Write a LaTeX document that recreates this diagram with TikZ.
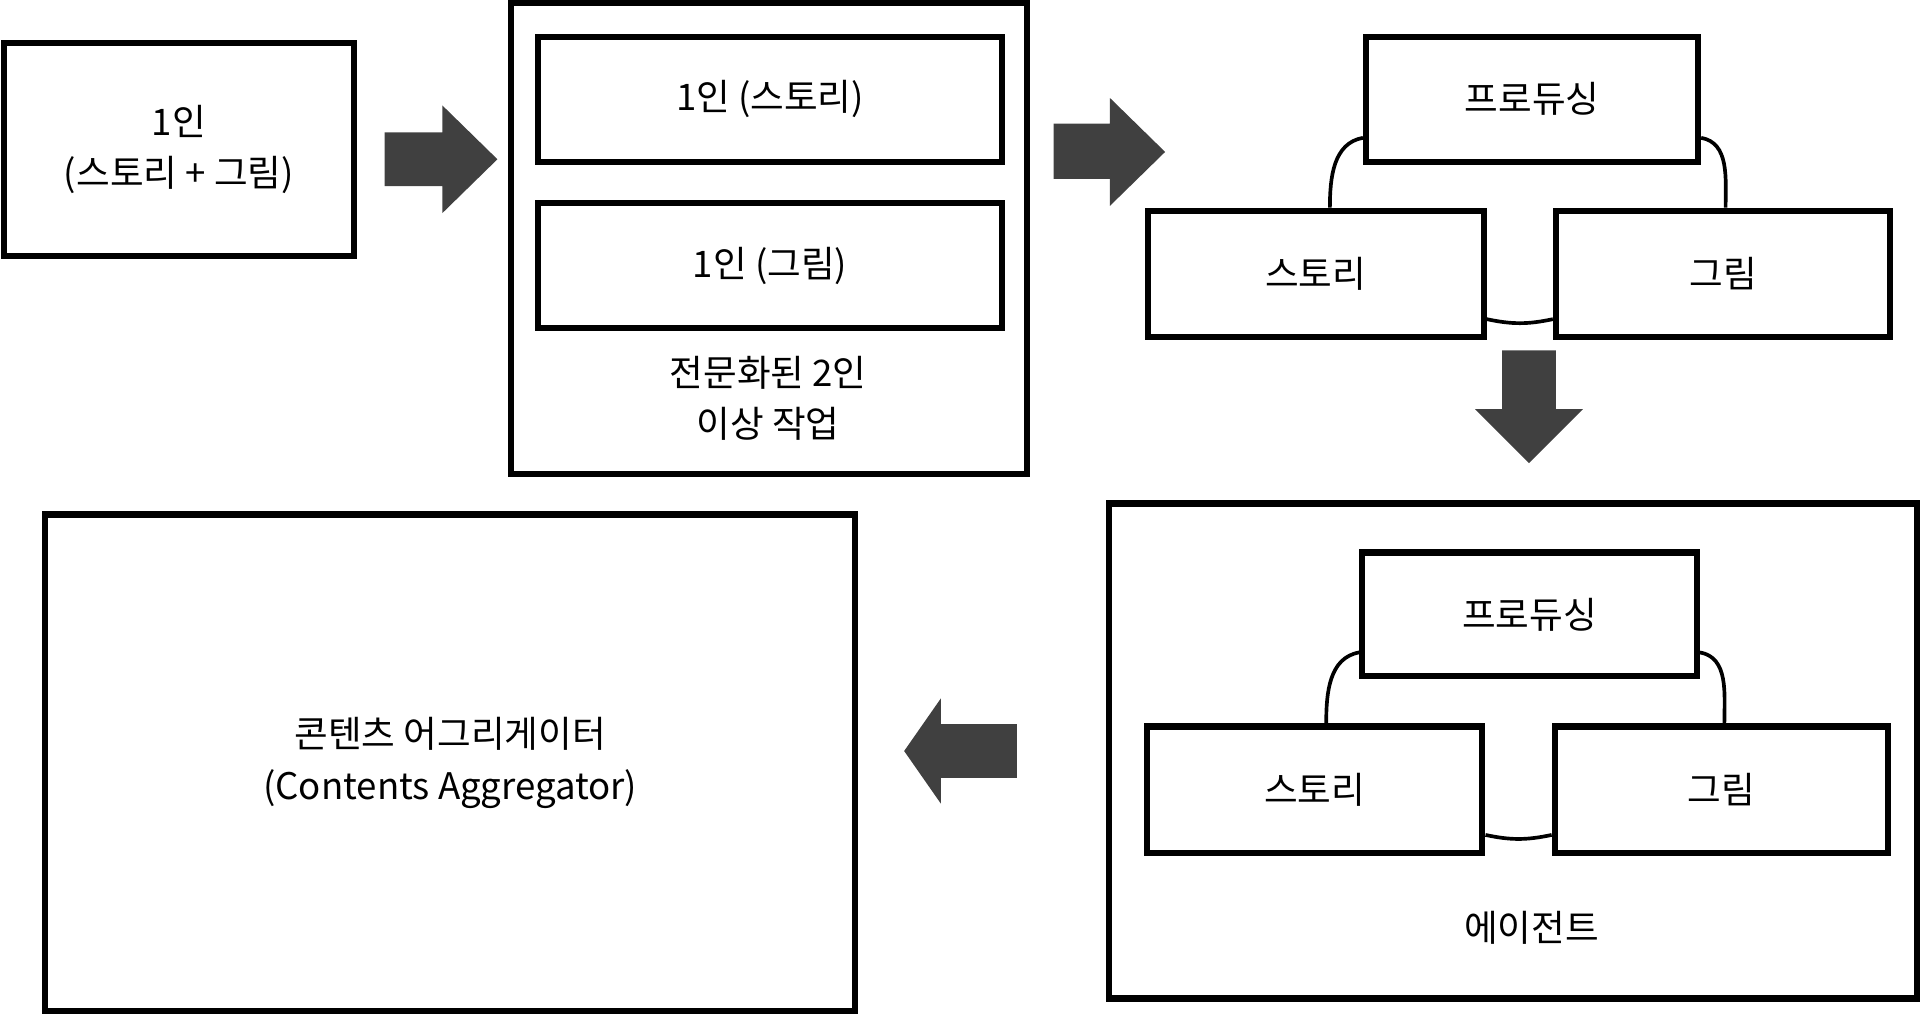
\documentclass[tikz,border=0pt]{standalone}
\usepackage{fontspec}
\setmainfont{Noto Sans CJK KR}
\usetikzlibrary{calc}
\tikzset{
  box/.style={draw, line width=0.1cm, align=center, inner sep=0pt},
  link/.style={line width=0.06cm},
  blockarrow/.style={fill=black!75, draw=none}
}

\begin{document}
\begin{tikzpicture}[font=\fontsize{17}{24}\selectfont]
 				\useasboundingbox (0,0) rectangle (31.36,-16.54);
 				
 				% one person
 				\node[box, minimum width=5.72cm, minimum height=3.48cm] (solo) at (2.92,-2.44) {1인\\(스토리 + 그림)};
 				\fill[blockarrow] (6.28,-2.16) -- (7.22,-2.16) -- (7.22,-1.72) -- (8.12,-2.6) -- (7.22,-3.48) -- (7.22,-3.04) -- (6.28,-3.04) -- cycle;
 				
 				% two persons
 				\node[box, minimum width=8.42cm, minimum height=7.7cm] (duo) at (12.55,-3.89) {};
 				\node[box, minimum width=7.58cm, minimum height=2.04cm] (duostory) at (12.57,-1.62) {1인 (스토리)};
 				\node[box, minimum width=7.58cm, minimum height=2.04cm] (duodraw) at (12.57,-4.34) {1인 (그림)};
 				\node[align=center] (duotext) at (12.54,-6.5) {전문화된 2인\\이상 작업};
 				\fill[blockarrow] (17.2,-2.02) -- (18.12,-2.02) -- (18.12,-1.6) -- (19.02,-2.48) -- (18.12,-3.36) -- (18.12,-2.92) -- (17.2,-2.92) -- cycle;
 				
 				% team
 				\node[box, minimum width=5.42cm, minimum height=2.04cm] (tpro) at (25.01,-1.62) {프로듀싱};
 				\node[box, minimum width=5.48cm, minimum height=2.06cm] (tsto) at (21.48,-4.47) {스토리};
 				\node[box, minimum width=5.46cm, minimum height=2.06cm] (tdraw) at (28.13,-4.47) {그림};
 				\draw[link] ($(tpro.south west)+(0,0.44)$) to[out=190,in=90] ($(tsto.north west)+(3.02,0)$);
 				\draw[link] ($(tpro.south east)+(0,0.44)$) to[out=-10,in=90] ($(tdraw.north west)+(2.82,0)$);
 				\draw[link] ($(tsto.south east)+(0,0.34)$) to[bend right=12] ($(tdraw.south west)+(0,0.34)$);
 				\fill[blockarrow] (24.52,-5.72) -- (25.4,-5.72) -- (25.4,-6.68) -- (25.84,-6.68) -- (24.96,-7.56) -- (24.08,-6.68) -- (24.52,-6.68) -- cycle;
 				
 				% agent
 				\node[box, minimum width=13.2cm, minimum height=8.08cm] (agent) at (24.7,-12.26) {};
 				\node[box, minimum width=5.46cm, minimum height=2.02cm] (apro) at (24.97,-10.03) {프로듀싱};
 				\node[box, minimum width=5.48cm, minimum height=2.06cm] (asto) at (21.46,-12.89) {스토리};
 				\node[box, minimum width=5.44cm, minimum height=2.06cm] (adraw) at (28.1,-12.89) {그림};
 				\draw[link] ($(apro.south west)+(0,0.44)$) to[out=190,in=90] ($(asto.north west)+(2.98,0)$);
 				\draw[link] ($(apro.south east)+(0,0.44)$) to[out=-10,in=90] ($(adraw.north west)+(2.82,0)$);
 				\draw[link] ($(asto.south east)+(0,0.34)$) to[bend right=12] ($(adraw.south west)+(0,0.34)$);
 				\node (agenttext) at (25,-15.14) {에이전트};
 				\fill[blockarrow] (16.6,-11.82) -- (15.36,-11.82) -- (15.36,-11.4) -- (14.76,-12.26) -- (15.36,-13.12) -- (15.36,-12.7) -- (16.6,-12.7) -- cycle;
 				
 				% aggregator
 				\node[box, minimum width=13.22cm, minimum height=8.1cm] (aggr) at (7.35,-12.45) {콘텐츠 어그리게이터\\(Contents Aggregator)};
 			\end{tikzpicture}
\end{document}
